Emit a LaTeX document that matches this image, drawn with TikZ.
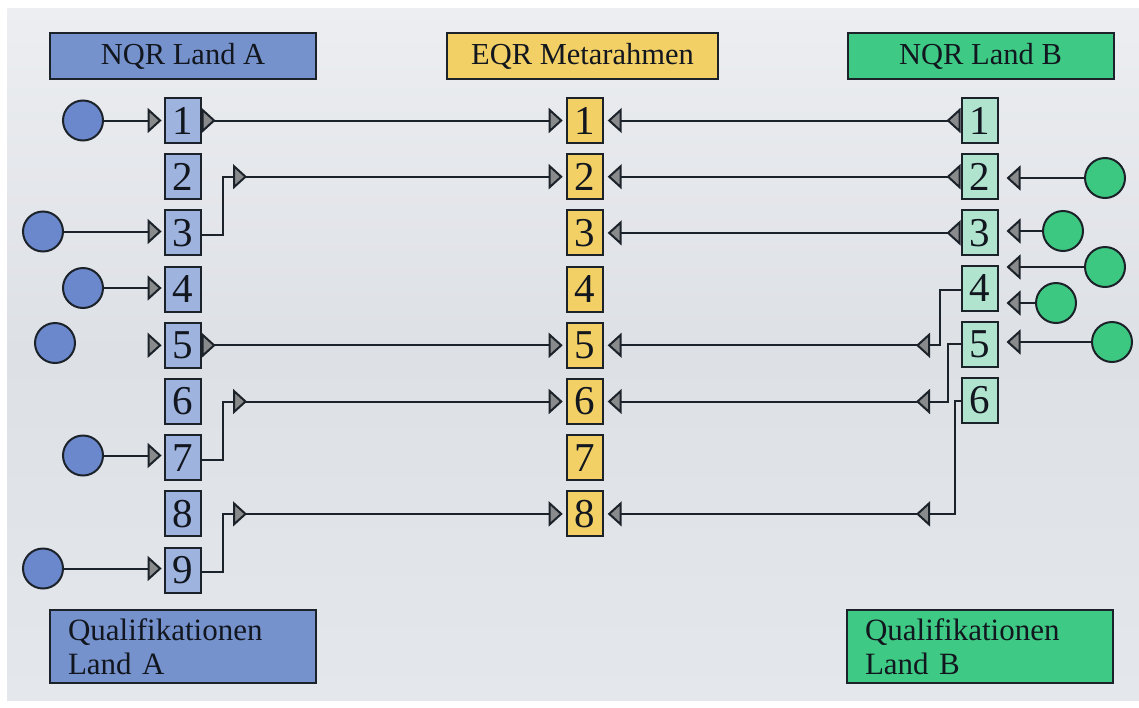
\documentclass[tikz,border=0pt]{standalone}
\usepackage{fontspec}
\setmainfont{Liberation Serif}
\usetikzlibrary{arrows.meta,calc}
\definecolor{edge}{RGB}{28,34,42}
\definecolor{txt}{RGB}{18,22,30}
\definecolor{hdrblue}{RGB}{118,146,205}
\definecolor{lblue}{RGB}{158,179,221}
\definecolor{cblue}{RGB}{106,136,203}
\definecolor{yel}{RGB}{242,208,102}
\definecolor{hdrgreen}{RGB}{62,202,132}
\definecolor{lgreen}{RGB}{176,228,206}
\definecolor{cgreen}{RGB}{60,200,128}
\definecolor{tipgray}{RGB}{136,138,140}
\definecolor{bgtop}{RGB}{236,238,241}
\definecolor{bgmid}{RGB}{221,224,229}
\definecolor{bgbot}{RGB}{228,231,235}
\begin{document}
\begin{tikzpicture}[x=1pt,y=-1pt,
  tri/.tip={Triangle[length=14pt,width=25pt,fill=tipgray]},
  rtri/.tip={Triangle[length=14pt,width=25pt,fill=tipgray,reversed]},
  box/.style={draw=edge, line width=2pt, inner sep=0pt, text=txt},
  num/.style={box, minimum width=36pt, minimum height=45pt, font=\fontsize{41}{41}\selectfont},
  lnum/.style={num, fill=lblue},
  mnum/.style={num, fill=yel},
  rnum/.style={num, fill=lgreen},
  hdr/.style={box, minimum width=266pt, minimum height=46pt, font=\fontsize{30.5}{30.5}\selectfont},
  foot/.style={box, text width=230pt, inner xsep=18pt, minimum height=73pt, align=left, font=\fontsize{31}{34}\selectfont},
  dotA/.style={circle, draw=edge, line width=2pt, fill=cblue, minimum size=40pt, inner sep=0pt},
  dotB/.style={circle, draw=edge, line width=2pt, fill=cgreen, minimum size=40pt, inner sep=0pt},
  conn/.style={draw=edge, line width=2pt},
  feed/.style={conn, -tri, shorten >=2pt},
  link/.style={conn, rtri-tri, shorten >=3pt}
]
\useasboundingbox (0,0) rectangle (1139,707);
\fill[white] (0,0) rectangle (1139,707);
\shade[top color=bgtop, bottom color=bgbot, middle color=bgmid] (7,8) rectangle (1139,700);

% headers
\node[hdr, fill=hdrblue] (HA) at (183,56) {NQR Land A};
\node[hdr, fill=yel, minimum width=271pt] (HE) at (582.5,56) {EQR Metarahmen};
\node[hdr, fill=hdrgreen] (HB) at (980.5,56) {NQR Land B};

% footers
\node[foot, fill=hdrblue] (FA) at (183,646.5) {Qualifikationen\\Land A};
\node[foot, fill=hdrgreen] (FB) at (980,646.5) {Qualifikationen\\Land B};

% left column
\foreach \i/\y in {1/120.5,2/176.7,3/232.9,4/289.1,5/345.3,6/401.5,7/457.7,8/513.9,9/570.1}
  \node[lnum] (L\i) at (182.6,\y) {\i};
% middle column
\foreach \i/\y in {1/120.5,2/176.7,3/232.9,4/289.1,5/345.3,6/401.5,7/457.7,8/513.9}
  \node[mnum] (M\i) at (584.7,\y) {\i};
% right column
\foreach \i/\y in {1/120.5,2/176.7,3/232.9,4/288.1,5/344.3,6/400.5}
  \node[rnum] (R\i) at (979.5,\y) {\i};

% left circles
\node[dotA] (a1) at (83,120.5) {};
\node[dotA] (a3) at (43,231.5) {};
\node[dotA] (a4) at (83,288) {};
\node[dotA] (a5) at (55,343) {};
\node[dotA] (a7) at (83,455.5) {};
\node[dotA] (a9) at (43,568.5) {};

% right circles
\node[dotB] (b2) at (1105,178) {};
\node[dotB] (b3) at (1063,231) {};
\node[dotB] (b4a) at (1105,267) {};
\node[dotB] (b4b) at (1056,303) {};
\node[dotB] (b5) at (1112,342) {};

% left feeds
\draw[feed] (a1) -- (a1 -| L1.west);
\draw[feed] (a3) -- (a3 -| L3.west);
\draw[feed] (a4) -- (a4 -| L4.west);
\coordinate (t5) at (148.3,345.3);
\draw[feed] (t5) -- (L5.west);
\draw[feed] (a7) -- (a7 -| L7.west);
\draw[feed] (a9) -- (a9 -| L9.west);

% right feeds
\draw[feed, shorten >=8pt] (b2) -- (b2 -| R2.east);
\draw[feed, shorten >=8pt] (b3) -- (b3 -| R3.east);
\draw[feed, shorten >=8pt] (b4a) -- (b4a -| R4.east);
\draw[feed, shorten >=8pt] (b4b) -- (b4b -| R4.east);
\draw[feed, shorten >=8pt] (b5) -- (b5 -| R5.east);

% left links
\draw[link] (L1.east) -- (M1.west);
\draw[link] (L5.east) -- (M5.west);
\coordinate (k3) at (233,176.7);
\coordinate (k7) at (233,401.5);
\coordinate (k9) at (233,513.9);
\draw[conn] ([yshift=-2pt]L3.east) -| ($(k3)+(-10,0)$) -- (k3);
\draw[link] (k3) -- (M2.west);
\draw[conn] ([yshift=-2pt]L7.east) -| ($(k7)+(-10,0)$) -- (k7);
\draw[link] (k7) -- (M6.west);
\draw[conn] ([yshift=-2pt]L9.east) -| ($(k9)+(-10,0)$) -- (k9);
\draw[link] (k9) -- (M8.west);

% right links
\draw[link, shorten >=4pt] (R1.west) -- (M1.east);
\draw[link, shorten >=4pt] (R2.west) -- (M2.east);
\draw[link, shorten >=4pt] (R3.west) -- (M3.east);
\coordinate (k4) at (930,345.3);
\coordinate (k5) at (930,401.5);
\coordinate (k6) at (930,513.9);
\draw[conn] ([yshift=-2pt]R4.west) -| ($(k4)+(10,0)$) -- (k4);
\draw[link, shorten >=4pt] (k4) -- (M5.east);
\draw[conn] (R5.west) -| ($(k5)+(18,0)$) -- (k5);
\draw[link, shorten >=4pt] (k5) -- (M6.east);
\draw[conn] (R6.west) -| ($(k6)+(25,0)$) -- (k6);
\draw[link, shorten >=4pt] (k6) -- (M8.east);
\end{tikzpicture}
\end{document}
